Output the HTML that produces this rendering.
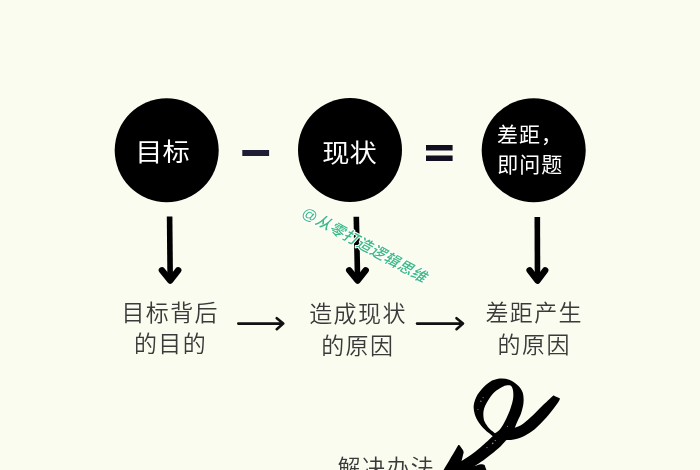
<!DOCTYPE html>
<html lang="zh-CN">
<head>
<meta charset="utf-8">
<title>目标 - 现状 = 差距</title>
<style>
html,body{margin:0;padding:0;background:#fbfcf0;}
body{width:700px;height:470px;overflow:hidden;position:relative;font-family:"Liberation Sans","Noto Sans CJK SC",sans-serif;}
svg{position:absolute;left:0;top:0;display:block;will-change:transform;}
text{font-family:"Liberation Sans","Noto Sans CJK SC",sans-serif;}
.w{fill:#fff;font-weight:400;}
.g{fill:#3a3a3a;font-weight:350;font-size:23px;text-anchor:middle;letter-spacing:1.4px;}
.wm{fill:#3dba85;font-size:15px;font-weight:500;font-style:italic;letter-spacing:0.55px;stroke:#fff;stroke-width:2px;paint-order:stroke fill;stroke-linejoin:round;}
</style>
</head>
<body>
<svg width="700" height="470" viewBox="0 0 700 470">
  <!-- circles -->
  <circle cx="166.7" cy="150.3" r="52" fill="#000"/>
  <circle cx="350" cy="150" r="52" fill="#000"/>
  <circle cx="533.7" cy="150.3" r="52" fill="#000"/>
  <text class="w" transform="translate(135.2 161.2) scale(1.09 1)" font-size="25" letter-spacing="0">目标</text>
  <text class="w" transform="translate(322.2 161.8) scale(1.09 1)" font-size="25" letter-spacing="0">现状</text>
  <text class="w" x="497" y="142.4" font-size="21" letter-spacing="1">差距，</text>
  <text class="w" x="497.3" y="172.4" font-size="21" letter-spacing="1">即问题</text>
  <!-- operators -->
  <rect x="242.3" y="150" width="26.8" height="6" fill="#1f1d36"/>
  <rect x="426" y="145" width="26.6" height="5.5" fill="#100f22"/>
  <rect x="426" y="155.5" width="26.6" height="5.5" fill="#100f22"/>
  <!-- down arrows -->
  <g fill="none" stroke="#000" stroke-width="5.6" stroke-linecap="butt">
    <path d="M169.6 216.5 L170.2 281"/>
    <path d="M356.3 216.7 L357.6 281"/>
    <path d="M537.3 216.9 L537.5 281"/>
  </g>
  <g fill="none" stroke="#000" stroke-width="6.4" stroke-linecap="round" stroke-linejoin="round">
    <path d="M161.9 270.3 L170.2 280.6 L178.2 270.3"/>
    <path d="M349.2 270.3 L357.6 280.5 L365.7 270.3"/>
    <path d="M529.6 270.3 L537.5 280.6 L545.2 270.3"/>
  </g>
  <!-- right arrows -->
  <g fill="none" stroke="#111" stroke-width="2.6" stroke-linecap="round" stroke-linejoin="round">
    <path d="M238.3 323.6 L283 323.6 M276.8 318.2 L283.2 323.6 L276.8 329.2"/>
    <path d="M417 323.6 L462.8 323.6 M456.5 318.2 L463 323.6 L456.5 329.2"/>
  </g>
  <!-- captions -->
  <text class="g" x="170.2" y="320.7">目标背后</text>
  <text class="g" x="170.5" y="352.3">的目的</text>
  <text class="g" x="358" y="321.8">造成现状</text>
  <text class="g" x="357.8" y="353.5">的原因</text>
  <text class="g" x="534.2" y="320.5">差距产生</text>
  <text class="g" x="534.2" y="352.8">的原因</text>
  <text class="g" x="386.4" y="475.6">解决办法</text>
  <!-- watermark -->
  <text class="wm" transform="translate(300.6 215.6) rotate(28.8)">@从零打造逻辑思维</text>
  <!-- curly arrow -->
  <path d="M554.6 395.9 C555.6 396.3 558.1 397.3 559.0 397.9 C559.9 398.5 560.3 398.0 559.7 399.4 C559.1 400.8 557.7 403.1 555.5 406.1 C553.3 409.1 550.1 413.4 546.6 417.2 C543.1 421.0 538.4 426.1 534.7 429.2 C531.0 432.3 527.8 434.2 524.3 435.9 C520.8 437.6 516.8 438.9 513.8 439.6 C510.8 440.3 507.4 440.1 506.1 440.2 C504.8 441.6 501.5 445.6 498.5 448.3 C495.5 451.0 491.6 454.1 488.3 456.6 C485.0 459.2 481.1 462.0 478.7 463.6 C476.3 465.2 474.9 465.7 474.2 466.1 C475.3 465.8 478.9 464.4 480.6 464.2 C482.3 464.0 483.9 464.8 484.6 464.9 C484.9 465.8 485.9 468.1 486.4 470.0 C486.9 471.9 487.3 475.0 487.5 476.0 C479.6 476.0 447.9 476.0 440.0 476.0 C440.6 475.0 440.6 475.2 443.6 470.0 C446.7 464.8 455.9 449.2 458.3 445.0 C458.4 445.0 459.1 445.0 459.2 445.0 C459.9 446.0 462.8 449.3 463.4 451.1 C464.0 452.9 463.1 454.2 462.8 455.9 C462.5 457.5 461.7 460.1 461.5 461.0 C462.4 460.5 464.3 459.4 466.6 457.8 C468.9 456.2 472.5 453.8 475.5 451.5 C478.5 449.2 481.6 446.4 484.5 443.8 C487.4 441.2 491.3 437.5 492.7 436.2 C492.2 435.8 491.2 435.0 489.6 433.6 C488.0 432.2 485.2 430.1 483.2 427.9 C481.2 425.7 478.8 422.6 477.4 420.2 C476.0 417.8 475.2 415.9 474.6 413.5 C474.0 411.1 473.4 408.6 473.7 405.8 C474.0 403.0 475.0 399.7 476.4 396.8 C477.8 393.9 480.1 391.1 482.3 388.6 C484.5 386.1 486.9 383.6 489.8 381.9 C492.7 380.2 496.3 379.0 499.5 378.6 C502.7 378.2 506.2 378.6 509.2 379.7 C512.2 380.8 515.2 382.8 517.4 384.9 C519.6 387.0 521.6 389.3 522.6 392.3 C523.6 395.3 523.8 399.3 523.5 402.8 C523.2 406.3 522.1 410.1 521.1 413.2 C520.1 416.3 518.5 419.0 517.4 421.4 C516.3 423.8 515.2 426.7 514.8 427.8 C516.1 427.1 519.7 426.0 522.8 423.9 C525.9 421.8 530.0 418.0 533.2 415.0 C536.4 412.0 538.9 409.2 542.1 406.1 C545.3 403.0 550.4 398.2 552.2 396.5 C554.1 394.8 552.8 395.7 553.2 395.6 C553.6 395.5 553.6 395.5 554.6 395.9Z M511.6 386.6 C510.9 385.5 510.2 385.3 508.8 385.3 C507.4 385.3 505.6 385.2 503.2 386.4 C500.8 387.6 496.9 389.8 494.3 392.3 C491.7 394.8 489.4 398.3 487.6 401.3 C485.8 404.3 484.3 407.2 483.7 410.2 C483.1 413.2 483.3 416.8 483.8 419.2 C484.3 421.6 485.5 423.2 486.5 424.8 C487.5 426.4 488.4 427.6 489.8 429.0 C491.2 430.4 494.1 432.5 495.0 433.2 C495.8 432.6 498.0 431.8 499.6 429.8 C501.2 427.9 503.1 424.8 504.8 421.5 C506.5 418.2 508.5 413.8 509.9 410.2 C511.2 406.6 512.3 402.8 512.9 399.8 C513.5 396.8 513.4 394.2 513.2 392.0 C513.0 389.8 512.3 387.7 511.6 386.6Z" fill="#000" fill-rule="evenodd"/>
<g fill="#fbfcf0" opacity="0.55"><!-- specks -->
    <circle cx="487" cy="447.6" r="0.7"/><circle cx="492.7" cy="443.4" r="0.8"/><circle cx="495.3" cy="440.6" r="0.7"/><circle cx="507.4" cy="426.3" r="0.6"/>
    <circle cx="480.9" cy="401.3" r="0.7"/><circle cx="483.1" cy="397.6" r="0.6"/><circle cx="477.9" cy="409.5" r="0.6"/>
  </g>
</svg>
</body>
</html>
